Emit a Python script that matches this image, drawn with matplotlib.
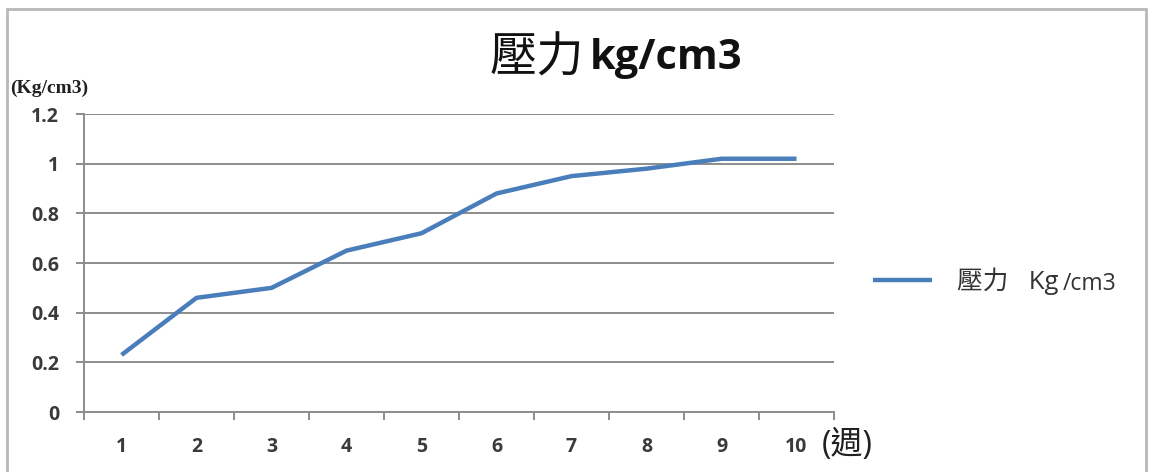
import matplotlib
matplotlib.use('Agg')
import matplotlib.pyplot as plt
from matplotlib.patches import Rectangle
from matplotlib.ticker import FixedLocator

plt.rcParams['font.family'] = ['Open Sans', 'Noto Sans CJK TC', 'DejaVu Sans']

weeks = [1, 2, 3, 4, 5, 6, 7, 8, 9, 10]
week_labels = ['1', '2', '3', '4', '5', '6', '7', '8', '9', '10']
pressure = [0.23, 0.46, 0.50, 0.65, 0.72, 0.88, 0.95, 0.98, 1.02, 1.02]
y_ticks = [0, 0.2, 0.4, 0.6, 0.8, 1.0, 1.2]
y_labels = ['0', '0.2', '0.4', '0.6', '0.8', '1', '1.2']

fig = plt.figure(figsize=(11.51, 4.72), dpi=100)
ax = fig.add_axes([0.073, 0.127, 0.6516, 0.6314])

grid_c = '#8c8c8c'
txt_c = '#3a3a3a'
line, = ax.plot(weeks, pressure, color='#4a7ebb', lw=3.2, solid_capstyle='butt',
                label='壓力   Kg')

ax.set_xlim(0.5, 10.5)
ax.set_ylim(0, 1.2)
ax.set_yticks(y_ticks)
ax.set_yticklabels(y_labels)
ax.set_xticks(weeks)
ax.set_xticklabels(week_labels)
ax.xaxis.set_minor_locator(FixedLocator([w + 0.5 for w in [0] + weeks]))
ax.tick_params(axis='x', which='major', length=0, pad=18, labelsize=14, labelcolor=txt_c)
ax.tick_params(axis='x', which='minor', length=6, width=1.4, color=grid_c, direction='out')
ax.tick_params(axis='y', length=6, width=1.4, color=grid_c, pad=12, labelsize=14,
               labelcolor=txt_c)
for lab in ax.get_xticklabels() + ax.get_yticklabels():
    lab.set_fontweight('bold')

ax.grid(axis='y', color=grid_c, lw=1.4)
ax.set_axisbelow(True)
for s in ['top', 'right']:
    ax.spines[s].set_visible(False)
for s in ['left', 'bottom']:
    ax.spines[s].set_color(grid_c)
    ax.spines[s].set_linewidth(1.4)

fig.text(0.5075, 0.877, '壓力', fontsize=34, ha='right', va='center', color='#111111',
         family=['Noto Sans CJK TC', 'DejaVu Sans'])
fig.text(0.5126, 0.877, 'kg/cm3', fontsize=30, fontweight='bold', ha='left', va='center',
         family=['Open Sans', 'DejaVu Sans'], color='#111111')
fig.text(0.009, 0.813, '(Kg/cm3)', fontsize=14, fontweight='bold', ha='left', va='center',
         family=['Liberation Serif'], color='#202020')
fig.text(0.714, 0.057, '(週)', fontsize=23, ha='left', va='center', color='#202020',
         family=['Open Sans', 'Noto Sans CJK TC', 'DejaVu Sans'])

leg = fig.legend(handles=[line], loc='center left', bbox_to_anchor=(0.7585, 0.405),
                 frameon=False, handlelength=2.3, handletextpad=0.95,
                 borderpad=0, borderaxespad=0,
                 prop={'family': ['Open Sans', 'Noto Sans CJK TC', 'DejaVu Sans'], 'size': 18.5})
for t in leg.get_texts():
    t.set_color('#333333')
fig.text(0.9236, 0.3856, '/cm3', fontsize=16.5, ha='left', va='baseline', color='#333333')

fig.add_artist(Rectangle((0.006, -0.1), 0.99, 1.081, transform=fig.transFigure,
                         fill=False, edgecolor='#b8b8b8', lw=2, clip_on=False))

fig.savefig('out.png', dpi=100)
